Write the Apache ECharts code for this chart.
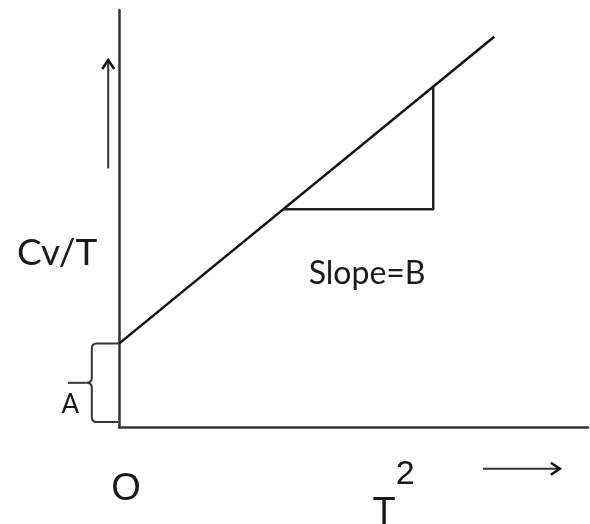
<!DOCTYPE html>
<html>
<head>
<meta charset="utf-8">
<script src="https://cdn.jsdelivr.net/npm/echarts@6/dist/echarts.min.js"></script>
<style>
  html, body { margin: 0; padding: 0; background: #fff; }
  #chart { width: 590px; height: 524px; }
</style>
</head>
<body>
<div id="chart"></div>
<script>
// Cv/T plotted against T^2: straight line with intercept A and slope B
const interceptA = 2.0;
const fitLine = [[0, 2.0], [8.0, 9.36]];
// slope triangle drawn under the line
const slopeTriangle = [[3.5, 5.22], [6.7, 5.22], [6.7, 8.16]];

// direction arrows beside the axes
const yArrow = [[-0.23, 6.2], [-0.23, 8.8]];
const xArrow = [[7.76, -1.0], [9.4, -1.0]];

// brace marking the intercept A on the y axis
const braceSpan = [0.12, interceptA];
const braceX = -0.58;
const braceTipX = -1.09;

// text annotations: [x, y, text]
const labels = [
  { pos: [-1.32, 4.17], text: 'Cv/T', font: 'Lato', size: 37, align: 'center', vAlign: 'middle' },
  { pos: [5.29, 3.67], text: 'Slope=B', font: 'Lato', size: 32, align: 'center', vAlign: 'middle' },
  { pos: [-1.04, 0.53], text: 'A', font: 'Lato', size: 26, align: 'center', vAlign: 'middle' },
  { pos: [0.15, -1.51], text: 'O', font: 'Liberation Sans', size: 38, align: 'center', vAlign: 'middle' },
  { pos: [5.65, -1.63], text: 'T', font: 'Liberation Sans', size: 38, align: 'center', vAlign: 'top' },
  { pos: [6.1, -1.15], text: '2', font: 'Liberation Sans', size: 34, align: 'center', vAlign: 'middle' }
];

const ink = '#1a1a1a';

function arrowShape(api, seg) {
  const a = api.coord(seg[0]);
  const b = api.coord(seg[1]);
  const dx = b[0] - a[0], dy = b[1] - a[1];
  const len = Math.sqrt(dx * dx + dy * dy);
  const ux = dx / len, uy = dy / len;
  const h = 9, w = 6;
  const p1 = [b[0] - ux * h - uy * w, b[1] - uy * h + ux * w];
  const p2 = [b[0] - ux * h + uy * w, b[1] - uy * h - ux * w];
  return [
    { type: 'line', shape: { x1: a[0], y1: a[1], x2: b[0], y2: b[1] },
      style: { stroke: '#333', lineWidth: 2 } },
    { type: 'polyline', shape: { points: [p1, b, p2] },
      style: { stroke: '#111', lineWidth: 2.5, fill: null } }
  ];
}

function braceShape(api) {
  const axisTop = api.coord([0, braceSpan[1]]);
  const axisBot = api.coord([0, braceSpan[0]]);
  const top = api.coord([braceX, braceSpan[1]]);
  const bot = api.coord([braceX, braceSpan[0]]);
  const mid = api.coord([braceX, (braceSpan[0] + braceSpan[1]) / 2]);
  const tip = api.coord([braceTipX, (braceSpan[0] + braceSpan[1]) / 2]);
  const r = 5;
  const d = [
    'M', axisTop[0] - 1, axisTop[1],
    'L', top[0] + r, top[1],
    'Q', top[0], top[1], top[0], top[1] + r,
    'L', mid[0], mid[1] - r,
    'Q', mid[0], mid[1], mid[0] - r, mid[1],
    'Q', mid[0], mid[1], mid[0], mid[1] + r,
    'L', bot[0], bot[1] - r,
    'Q', bot[0], bot[1], bot[0] + r, bot[1],
    'L', axisBot[0] - 1, axisBot[1]
  ].join(' ');
  return [
    { type: 'path', shape: { pathData: d },
      style: { stroke: '#333', lineWidth: 2, fill: null } },
    { type: 'line', shape: { x1: tip[0], y1: tip[1], x2: mid[0] - r, y2: mid[1] },
      style: { stroke: '#333', lineWidth: 2 } }
  ];
}

function textShapes(api) {
  return labels.map(function (l) {
    const p = api.coord(l.pos);
    return {
      type: 'text',
      x: p[0], y: p[1],
      style: {
        text: l.text,
        fill: ink,
        font: l.size + 'px "' + l.font + '"',
        textAlign: l.align,
        textVerticalAlign: l.vAlign,
        verticalAlign: l.vAlign
      }
    };
  });
}

const chart = echarts.init(document.getElementById('chart'), null, { renderer: 'canvas' });

chart.setOption({
  backgroundColor: '#ffffff',
  animation: false,
  grid: { left: 119, right: 2, top: 10, bottom: 97 },
  xAxis: {
    type: 'value', min: 0, max: 10,
    axisLine: { show: true, lineStyle: { color: '#333', width: 2.5 } },
    axisTick: { show: false }, axisLabel: { show: false }, splitLine: { show: false }
  },
  yAxis: {
    type: 'value', min: 0, max: 10,
    axisLine: { show: true, lineStyle: { color: '#333', width: 2.5 } },
    axisTick: { show: false }, axisLabel: { show: false }, splitLine: { show: false }
  },
  series: [
    {
      name: 'Cv/T', type: 'line', data: fitLine, showSymbol: false, symbol: 'none',
      lineStyle: { color: '#111', width: 2.5 }, z: 3
    },
    {
      name: 'slope', type: 'line', data: slopeTriangle, showSymbol: false, symbol: 'none',
      lineStyle: { color: '#222', width: 2.5 }, z: 3
    },
    {
      type: 'custom', data: [0], clip: false, z: 4,
      renderItem: function (params, api) {
        const children = []
          .concat(arrowShape(api, yArrow))
          .concat(arrowShape(api, xArrow))
          .concat(braceShape(api))
          .concat(textShapes(api));
        return { type: 'group', children: children };
      }
    }
  ]
});
</script>
</body>
</html>
